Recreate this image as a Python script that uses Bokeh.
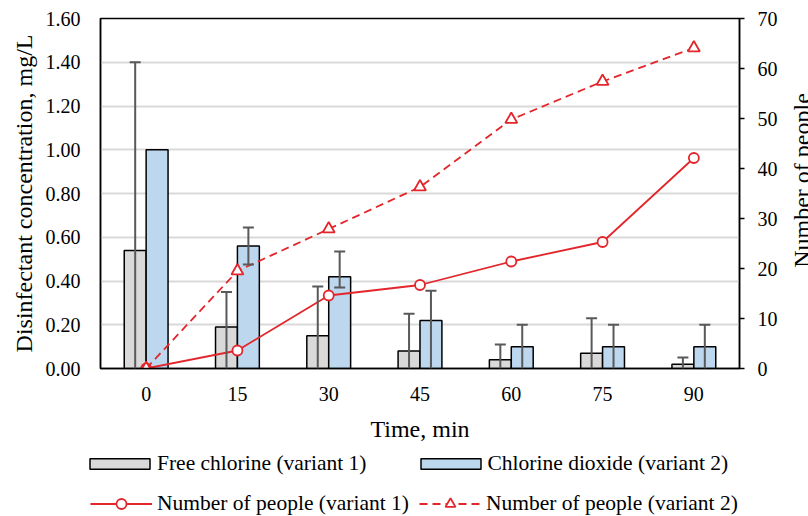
from math import pi
from bokeh.plotting import figure
from bokeh.layouts import column, row
from bokeh.models import (ColumnDataSource, FactorRange, Range1d, LinearAxis, FixedTicker,
                          NumeralTickFormatter, Whisker, TeeHead, Legend, LegendItem, Label)
from bokeh.transform import dodge
from bokeh.embed import file_html
from bokeh.resources import INLINE

# ---- data ----
times = ["0", "15", "30", "45", "60", "75", "90"]
free_chlorine = [0.54, 0.19, 0.15, 0.08, 0.04, 0.07, 0.02]
free_chlorine_upper = [1.40, 0.35, 0.375, 0.25, 0.11, 0.23, 0.05]
free_chlorine_lower = [0.0, 0.0, 0.0, 0.0, 0.0, 0.0, 0.0]
chlorine_dioxide = [1.00, 0.56, 0.42, 0.22, 0.10, 0.10, 0.10]
chlorine_dioxide_upper = [1.00, 0.645, 0.535, 0.355, 0.20, 0.20, 0.20]
chlorine_dioxide_lower = [1.00, 0.475, 0.37, 0.0, 0.0, 0.0, 0.0]
people_v1 = [0, 3.6, 14.6, 16.7, 21.4, 25.3, 42.1]
people_v2 = [0, 19.5, 27.9, 36.3, 49.8, 57.4, 64.1]
left_ticks = [0.0, 0.2, 0.4, 0.6, 0.8, 1.0, 1.2, 1.4, 1.6]
right_ticks = [0, 10, 20, 30, 40, 50, 60, 70]

FONT = "Liberation Serif"
RED = "#e3262b"
GREY = "#d9d9d9"
BLUE = "#bdd7ee"
ERR = "#595959"

src = ColumnDataSource(dict(t=times, fc=free_chlorine, cd=chlorine_dioxide,
                            v1=people_v1, v2=people_v2))

# ---------------- main chart ----------------
p = figure(x_range=FactorRange(*times), y_range=Range1d(0, 1.6),
           width=790, height=450, output_backend="svg", toolbar_location=None,
           min_border_left=100, min_border_right=51, min_border_top=18, min_border_bottom=82)
p.extra_y_ranges = {"people": Range1d(0, 70)}

p.outline_line_color = "black"
p.outline_line_width = 1.5
p.xgrid.grid_line_color = None
p.ygrid.grid_line_color = GREY
p.ygrid.grid_line_width = 2

# left axis
ya = p.yaxis[0]
ya.ticker = FixedTicker(ticks=left_ticks)
ya.formatter = NumeralTickFormatter(format="0.00")
ya.major_tick_out = 0
ya.major_tick_in = 0
ya.minor_tick_out = 0
ya.minor_tick_in = 0
ya.major_label_standoff = 20
ya.axis_line_color = "black"
ya.axis_line_width = 1.5
ya.major_label_text_font = FONT
ya.major_label_text_font_size = "20px"
ya.major_label_text_color = "black"
ya.axis_label = "Disinfectant concentration, mg/L"
ya.axis_label_text_font = FONT
ya.axis_label_text_font_size = "24px"
ya.axis_label_text_font_style = "normal"
ya.axis_label_text_color = "black"
ya.axis_label_standoff = 6

# bottom axis
xa = p.xaxis[0]
xa.major_tick_out = 0
xa.major_tick_in = 0
xa.major_label_standoff = 18
xa.axis_line_color = "black"
xa.axis_line_width = 1.5
xa.major_label_text_font = FONT
xa.major_label_text_font_size = "20px"
xa.major_label_text_color = "black"
xa.axis_label = "Time, min"
xa.axis_label_text_font = FONT
xa.axis_label_text_font_size = "24px"
xa.axis_label_text_font_style = "normal"
xa.axis_label_text_color = "black"
xa.axis_label_standoff = 12

# right axis
ra = LinearAxis(y_range_name="people", ticker=FixedTicker(ticks=right_ticks))
ra.major_tick_out = 5
ra.major_tick_in = 0
ra.minor_tick_out = 0
ra.minor_tick_in = 0
ra.major_tick_line_color = "black"
ra.major_tick_line_width = 1.5
ra.major_label_standoff = 13
ra.axis_line_color = "black"
ra.axis_line_width = 1.5
ra.major_label_text_font = FONT
ra.major_label_text_font_size = "20px"
ra.major_label_text_color = "black"
p.add_layout(ra, "right")

# bars
bar_style = dict(width=0.24, line_color="black", line_width=1.5)
p.vbar(x=dodge("t", -0.12, range=p.x_range), top="fc", source=src, fill_color=GREY, **bar_style)
p.vbar(x=dodge("t", 0.12, range=p.x_range), top="cd", source=src, fill_color=BLUE, **bar_style)

# error bars
def add_whiskers(values, upper, lower, offset):
    with_low = dict(t=[], u=[], l=[])
    no_low = dict(t=[], u=[], l=[])
    for t, v, u, l in zip(times, values, upper, lower):
        if u == v and l == v:
            continue
        d = with_low if l > 0 else no_low
        d["t"].append(t); d["u"].append(u); d["l"].append(l)
    for d, lower_head in ((with_low, True), (no_low, False)):
        if not d["t"]:
            continue
        s = ColumnDataSource(d)
        w = Whisker(base=dodge("t", offset, range=p.x_range), upper="u", lower="l", source=s,
                    line_color=ERR, line_width=2, level="annotation",
                    upper_head=TeeHead(size=11, line_color=ERR, line_width=2),
                    lower_head=TeeHead(size=11, line_color=ERR, line_width=2) if lower_head else None)
        p.add_layout(w)

add_whiskers(free_chlorine, free_chlorine_upper, free_chlorine_lower, -0.12)
add_whiskers(chlorine_dioxide, chlorine_dioxide_upper, chlorine_dioxide_lower, 0.12)

# people lines
line_style = dict(line_color=RED, line_width=1.8)
mark_style = dict(fill_color="white", line_color=RED, line_width=1.8)
p.line(x="t", y="v1", source=src, y_range_name="people", **line_style)
p.scatter(x="t", y="v1", source=src, y_range_name="people", marker="circle", size=10, **mark_style)
p.line(x="t", y="v2", source=src, y_range_name="people", line_dash="8 5", **line_style)
p.scatter(x="t", y="v2", source=src, y_range_name="people", marker="triangle", size=12, **mark_style)

# ---------------- helper strips ----------------
def blank_figure(w, h, **kw):
    f = figure(width=w, height=h, output_backend="svg", toolbar_location=None,
               x_axis_location=None, y_axis_location=None,
               min_border_left=0, min_border_right=0, min_border_top=0, min_border_bottom=0, **kw)
    f.outline_line_color = None
    f.grid.visible = False
    return f

# right axis title (reads bottom-to-top, like the reference)
title_fig = blank_figure(18, 450)
title_fig.add_layout(Label(x=11, y=188, x_units="screen", y_units="screen", angle=pi / 2,
                           text="Number of people", text_align="center", text_baseline="middle",
                           text_font=FONT, text_font_size="24px", text_color="black"))

# legend strip: hidden copies of the series only supply the legend glyphs
leg_fig = blank_figure(808, 66, x_range=FactorRange(*times), y_range=Range1d(1000, 1001))
r_fc = leg_fig.vbar(x="t", top="fc", source=src, fill_color=GREY, visible=False, **bar_style)
r_cd = leg_fig.vbar(x="t", top="cd", source=src, fill_color=BLUE, visible=False, **bar_style)
r_l1 = leg_fig.line(x="t", y="v1", source=src, visible=False, **line_style)
r_m1 = leg_fig.scatter(x="t", y="v1", source=src, marker="circle", size=10, visible=False,
                       **mark_style)
r_l2 = leg_fig.line(x="t", y="v2", source=src, line_dash="8 5", visible=False, **line_style)
r_m2 = leg_fig.scatter(x="t", y="v2", source=src, marker="triangle", size=12, visible=False,
                       **mark_style)

leg_common = dict(orientation="horizontal", padding=0, margin=0, border_line_color=None,
                  background_fill_alpha=0, label_text_font=FONT, label_text_font_size="21.5px",
                  label_text_color="black", click_policy="none", inactive_fill_alpha=0)
leg1 = Legend(items=[LegendItem(label="Free chlorine (variant 1)", renderers=[r_fc]),
                     LegendItem(label="Chlorine dioxide (variant 2)", renderers=[r_cd])],
              location=(82, 40), glyph_width=75, glyph_height=13, label_standoff=0, spacing=46,
              **leg_common)
leg2 = Legend(items=[LegendItem(label="Number of people (variant 1)", renderers=[r_l1, r_m1]),
                     LegendItem(label="Number of people (variant 2)", renderers=[r_l2, r_m2])],
              location=(90, 0), glyph_width=62, glyph_height=25, label_standoff=5, spacing=10,
              **leg_common)
leg_fig.add_layout(leg1, "center")
leg_fig.add_layout(leg2, "center")

page = column(row(p, title_fig), leg_fig)

open("out.html", "w").write(file_html(page, INLINE))
